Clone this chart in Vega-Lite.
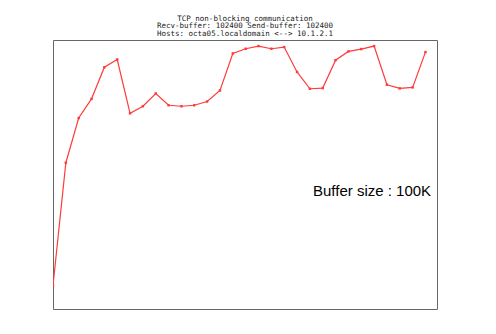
{
  "$schema": "https://vega.github.io/schema/vega-lite/v6.json",
  "width": 384,
  "height": 269,
  "autosize": {"type": "none"},
  "padding": {"left": 53, "top": 40, "right": 59, "bottom": 25},
  "background": "white",
  "title": {
    "text": ["TCP non-blocking communication", "Recv-buffer: 102400 Send-buffer: 102400", "Hosts: octa05.localdomain <--> 10.1.2.1"],
    "font": "DejaVu Sans Mono",
    "fontSize": 7.5,
    "fontWeight": "normal",
    "color": "#222",
    "lineHeight": 7.5,
    "anchor": "middle",
    "offset": 3
  },
  "config": {
    "view": {"stroke": "#666", "strokeWidth": 1},
    "axis": {
      "domain": false,
      "grid": false,
      "labelFont": "DejaVu Sans Mono",
      "labelFontSize": 8,
      "labelColor": "#333",
      "titleFont": "DejaVu Sans Mono",
      "titleFontSize": 8,
      "titleFontWeight": "normal",
      "titleColor": "#333"
    }
  },
  "data": {
    "values": [
      {"size": 1, "mbps": 1700},
      {"size": 2, "mbps": 5350},
      {"size": 4, "mbps": 6680},
      {"size": 8, "mbps": 7250},
      {"size": 16, "mbps": 8190},
      {"size": 32, "mbps": 8420},
      {"size": 64, "mbps": 6820},
      {"size": 128, "mbps": 7030},
      {"size": 256, "mbps": 7410},
      {"size": 512, "mbps": 7060},
      {"size": 1024, "mbps": 7030},
      {"size": 2048, "mbps": 7060},
      {"size": 4096, "mbps": 7170},
      {"size": 8192, "mbps": 7500},
      {"size": 16384, "mbps": 8600},
      {"size": 32768, "mbps": 8740},
      {"size": 65536, "mbps": 8820},
      {"size": 131072, "mbps": 8740},
      {"size": 262144, "mbps": 8790},
      {"size": 524288, "mbps": 8050},
      {"size": 1048576, "mbps": 7550},
      {"size": 2097152, "mbps": 7570},
      {"size": 4194304, "mbps": 8400},
      {"size": 8388608, "mbps": 8660},
      {"size": 16777216, "mbps": 8730},
      {"size": 33554432, "mbps": 8820},
      {"size": 67108864, "mbps": 7670},
      {"size": 134217728, "mbps": 7560},
      {"size": 268435456, "mbps": 7590},
      {"size": 536870912, "mbps": 8640}
    ]
  },
  "layer": [
    {
      "mark": {"type": "line", "color": "#ff3b3b", "strokeWidth": 1.2, "clip": true, "point": {"shape": "square", "size": 6, "filled": true, "color": "#ff3b3b"}},
      "encoding": {
        "x": {
          "field": "size", "type": "quantitative",
          "scale": {"type": "log", "domain": [1, 1000000000], "nice": false},
          "axis": {
            "orient": "bottom",
            "ticks": true,
            "tickColor": "#555",
            "tickWidth": 1,
            "tickSize": -4,
            "title": "Message size (Bytes)",
            "titlePadding": 2,
            "values": [1,2,5,8,10,20,50,80,100,200,500,800,1000,2000,5000,8000,10000,20000,50000,80000,100000,200000,500000,800000,1000000,2000000,5000000,8000000,10000000,20000000,50000000,80000000,100000000,200000000,500000000,800000000,1000000000],
            "labelExpr": "abs(log(datum.value)/LN10 - round(log(datum.value)/LN10)) > 0.01 ? '' : (datum.value < 1000000 ? format(datum.value, 'd') : '1e+0' + round(log(datum.value)/LN10))",
            "labelPadding": 4,
            "labelOverlap": false,
            "labelFlush": false
          }
        },
        "y": {
          "field": "mbps", "type": "quantitative",
          "scale": {"domain": [1000, 9000], "nice": false, "zero": false},
          "axis": {
            "orient": "left",
            "ticks": true,
            "tickColor": "#555",
            "tickWidth": 1,
            "tickSize": 4,
            "offset": -4,
            "title": "Throughput (Mbps)",
            "format": "d",
            "values": [1000,2000,3000,4000,5000,6000,7000,8000,9000],
            "labelPadding": 1,
            "titlePadding": 8,
            "labelOverlap": false,
            "labelFlush": false
          }
        }
      }
    },
    {
      "data": {"values": [{"size": 1240000, "mbps": 4500, "label": "Buffer size : 100K"}]},
      "mark": {"type": "text", "align": "left", "baseline": "middle", "font": "Liberation Sans", "fontSize": 15, "color": "#000"},
      "encoding": {
        "x": {"field": "size", "type": "quantitative", "axis": null},
        "y": {"field": "mbps", "type": "quantitative", "axis": null},
        "text": {"field": "label"}
      }
    }
  ]
}
